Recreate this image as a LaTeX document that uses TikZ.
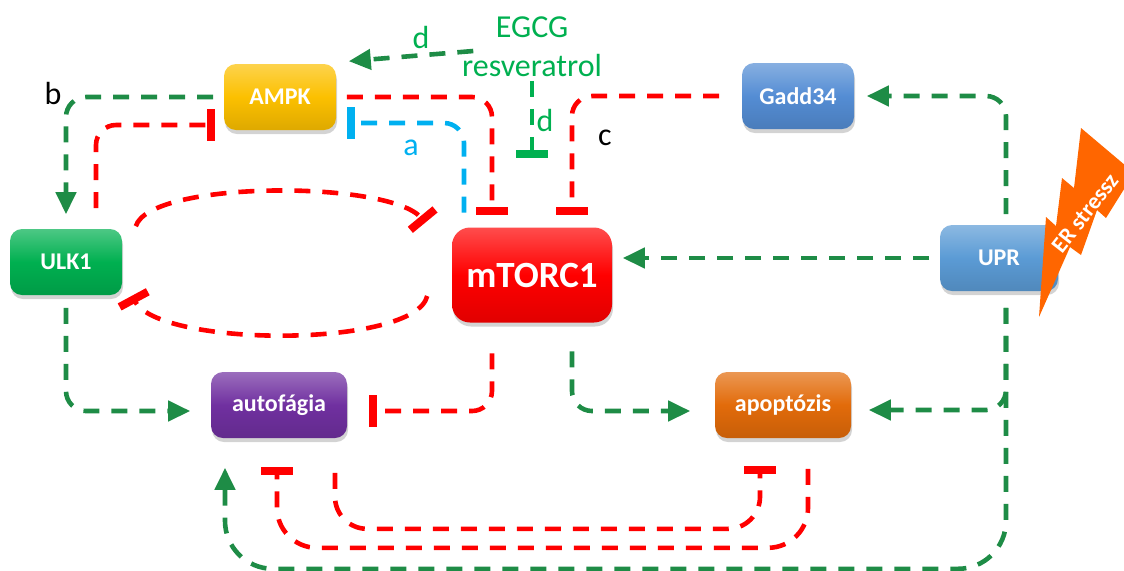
\documentclass[tikz,border=0pt]{standalone}
\usepackage{fontspec}
\usepackage{tikz}
\usetikzlibrary{arrows.meta,shadows}
\newfontfamily\calibri{Carlito}

\definecolor{ampkyellow}{RGB}{252,192,0}
\definecolor{gaddblue}{RGB}{84,141,212}
\definecolor{uprblue}{RGB}{91,155,213}
\definecolor{ulkgreen}{RGB}{0,176,80}
\definecolor{mtorred}{RGB}{255,0,0}
\definecolor{autopurple}{RGB}{112,48,160}
\definecolor{apoporange}{RGB}{226,107,10}
\definecolor{actgreen}{RGB}{30,140,70}
\definecolor{inhred}{RGB}{255,0,0}
\definecolor{labelgreen}{RGB}{0,176,80}
\definecolor{acyan}{RGB}{0,176,240}
\definecolor{boltorange}{RGB}{255,102,0}

\begin{document}
\begin{tikzpicture}[x=0.5pt,y=-0.5pt,thick,
                    box/.style={rectangle,rounded corners=6pt,minimum width=56pt,minimum height=33pt,
                      inner sep=0pt,text=white,font=\calibri\bfseries\fontsize{12}{14}\selectfont,
                      top color=#1!70!white,bottom color=#1!88!black,middle color=#1,
                      drop shadow={shadow xshift=0.5pt,shadow yshift=-2pt,opacity=0.35}},
                    act/.style={draw=actgreen,line width=2.3pt,dash pattern=on 8pt off 6pt,
                      -{Triangle[length=11pt,width=10pt]}},
                    inh/.style={draw=inhred,line width=2.3pt,dash pattern=on 8pt off 6pt,
                      -{Rectangle[length=4pt,width=16pt]}},
                    hv/.style={to path={-| (\tikztotarget)}},
                    vh/.style={to path={|- (\tikztotarget)}},
                    via/.style={to path={|- (#1) -- (\tikztotarget)}},
                    letter/.style={font=\calibri\fontsize{16}{19.5}\selectfont}]

  \useasboundingbox (0,0) rectangle (1124,570);

  \node[box=ampkyellow] (ampk) at (280,97) {AMPK};
  \node[box=gaddblue] (gadd) at (798,96) {Gadd34};
  \node[box=ulkgreen] (ulk1) at (66,262) {ULK1};
  \node[box=mtorred,minimum width=80pt,minimum height=47.5pt,rounded corners=9pt,
        font=\calibri\bfseries\fontsize{18.5}{21}\selectfont] (mtor) at (532,275) {mTORC1};
  \node[box=uprblue,minimum width=59pt] (upr) at (999,258) {UPR};
  \node[box=autopurple,minimum width=68pt] (auto) at (279,405) {autofágia};
  \node[box=apoporange,minimum width=68pt] (apop) at (783,405) {apoptózis};

  \node[letter,text=labelgreen,align=center,inner sep=0pt] (drug) at (532,47) {EGCG\\resveratrol};
  \coordinate (dend) at (532,158);

  \node[letter] (lb) at (53,93) {b};
  \node[letter,text=acyan] (la) at (411,148) {a};
  \node[letter,text=labelgreen] (ld1) at (421,37) {d};
  \node[letter,text=labelgreen] (ld2) at (545,120) {d};
  \node[letter] (lc) at (605,138) {c};

  \path[every edge/.append style={rounded corners=10pt}]
    ([xshift=-5pt]ampk.west) edge[act,hv] ([yshift=7pt]ulk1.north)
    ([xshift=15pt,yshift=10pt]ulk1.north) edge[inh,vh] ([xshift=-4pt,yshift=-14pt]ampk.west)
    ([xshift=5pt]ampk.east) edge[inh,hv] ([xshift=-20pt,yshift=6pt]mtor.north)
    ([xshift=-34pt,yshift=7pt]mtor.north) edge[inh,vh,draw=acyan] ([xshift=5pt,yshift=-13pt]ampk.east)
    ([xshift=6pt,yshift=-2pt]drug.west) edge[act] ([xshift=6pt,yshift=1pt]ampk.north east)
    ([yshift=-1.5pt]drug.south) edge[inh,draw=labelgreen] (dend)
    ([xshift=-11pt]gadd.west) edge[inh,hv] ([xshift=20pt,yshift=6pt]mtor.north)
    ([xshift=3.5pt,yshift=5pt]upr.north) edge[act,vh] ([xshift=6pt]gadd.east)
    ([xshift=-5pt]upr.west) edge[act] ([xshift=5pt]upr.west -| mtor.east)
    ([xshift=6.5pt,yshift=1pt]ulk1.north east) edge[inh,to path={.. controls (150,180) and (390,180) .. (\tikztotarget)}] ([xshift=-13pt,yshift=2pt]mtor.north west)
    ([xshift=-12pt,yshift=-10.5pt]mtor.west) edge[inh,to path={.. controls (415,348) and (160,348) .. (\tikztotarget)}] ([xshift=4.5pt]ulk1.south east)
    ([yshift=-6pt]ulk1.south) edge[act,vh] ([xshift=-10pt,yshift=-3pt]auto.west)
    ([xshift=-20pt,yshift=-15pt]mtor.south) edge[inh,vh] ([xshift=10.5pt,yshift=-3pt]auto.east)
    ([xshift=20pt,yshift=-14pt]mtor.south) edge[act,vh] ([xshift=-12pt,yshift=-3pt]apop.west)
    ([xshift=3.5pt,yshift=-8pt]upr.south) edge[act,vh] ([xshift=8.5pt,yshift=-2.5pt]apop.east)
    ([xshift=3.5pt,yshift=-8pt]upr.south) edge[act,via={[xshift=-27pt,yshift=-65pt]auto.south},rounded corners=24pt] ([xshift=-27pt,yshift=-14.5pt]auto.south)
    ([xshift=28pt,yshift=-17pt]auto.south) edge[inh,via={[xshift=-11.5pt,yshift=-45pt]apop.south},rounded corners=16pt] ([xshift=-11.5pt,yshift=-13.5pt]apop.south)
    ([xshift=12.5pt,yshift=-15pt]apop.south) edge[inh,via={[xshift=-1pt,yshift=-54.5pt]auto.south},rounded corners=20pt] ([xshift=-1pt,yshift=-14pt]auto.south);

  % ER stress bolt
  \fill[boltorange] (1081,128) -- (1126,166) -- (1126,186) -- (1106,218) -- (1097,210) -- (1081,255)
    -- (1070,247) -- (1039,317) -- (1046,217) -- (1056,226) -- (1062,178) -- (1074,188) -- cycle;
  \node[rotate=52,text=white,font=\calibri\bfseries\fontsize{11.5}{13}\selectfont] (er) at (1085,213) {ER stressz};
\end{tikzpicture}
\end{document}
